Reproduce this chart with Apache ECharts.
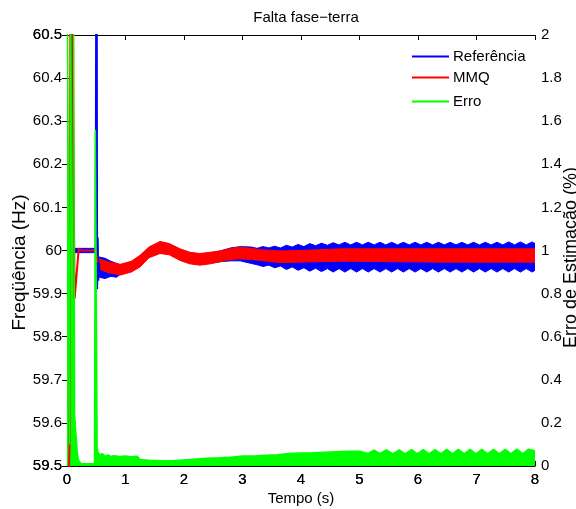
<!DOCTYPE html>
<html>
<head>
<meta charset="utf-8">
<script src="https://cdn.jsdelivr.net/npm/echarts@6/dist/echarts.min.js"></script>
<style>
  html, body { margin: 0; padding: 0; background: #fff; }
  #chart { width: 576px; height: 509px; }
</style>
</head>
<body>
<div id="chart"></div>
<script>
// Axis ranges and tick steps
const timeRange = [0, 8];
const freqRange = [59.5, 60.5];
const errRange = [0, 2];

// Referência: thin band before the fault, spike at the fault, then the oscillating band [t, low, high]
const refPreBand = [
  [0.00, 59.995, 60.005],
  [0.49, 59.995, 60.005]
];
const refSpike = [
  [0.490, 60.000], [0.505, 61.000], [0.515, 59.910], [0.525, 60.030],
  [0.535, 59.930], [0.545, 59.975], [0.555, 59.950]
];
const refBand = [
  [0.55, 59.938, 59.985], [0.65, 59.935, 59.982], [0.75, 59.940, 59.975],
  [0.85, 59.938, 59.970], [0.91, 59.945, 59.966], [1.10, 59.952, 59.973],
  [1.25, 59.964, 59.987], [1.40, 59.985, 60.006], [1.59, 59.995, 60.019],
  [1.75, 59.992, 60.014], [1.93, 59.979, 60.002], [2.10, 59.971, 59.994],
  [2.27, 59.968, 59.991], [2.45, 59.971, 59.994], [2.62, 59.974, 59.999],
  [2.80, 59.976, 60.006], [2.96, 59.976, 60.009], [3.15, 59.970, 60.008],
  [3.25, 59.967, 60.005], [3.35, 59.963, 60.009], [3.45, 59.966, 60.006],
  [3.55, 59.960, 60.010], [3.65, 59.964, 60.006], [3.75, 59.956, 60.012],
  [3.85, 59.962, 60.008], [3.95, 59.954, 60.014], [4.05, 59.960, 60.009],
  [4.15, 59.952, 60.016], [4.25, 59.959, 60.011], [4.35, 59.951, 60.017],
  [4.45, 59.958, 60.012], [4.55, 59.950, 60.018], [4.65, 59.958, 60.013],
  [4.75, 59.950, 60.019], [4.85, 59.958, 60.013], [4.95, 59.950, 60.019],
  [5.05, 59.958, 60.013], [5.15, 59.950, 60.019], [5.25, 59.958, 60.013],
  [5.35, 59.950, 60.019], [5.45, 59.958, 60.013], [5.55, 59.950, 60.019],
  [5.65, 59.958, 60.013], [5.75, 59.950, 60.019], [5.85, 59.958, 60.013],
  [5.95, 59.950, 60.019], [6.05, 59.958, 60.013], [6.15, 59.950, 60.019],
  [6.25, 59.958, 60.013], [6.35, 59.950, 60.019], [6.45, 59.958, 60.013],
  [6.55, 59.950, 60.019], [6.65, 59.958, 60.013], [6.75, 59.950, 60.019],
  [6.85, 59.958, 60.013], [6.95, 59.950, 60.019], [7.05, 59.958, 60.013],
  [7.15, 59.950, 60.019], [7.25, 59.958, 60.013], [7.35, 59.950, 60.019],
  [7.45, 59.958, 60.013], [7.55, 59.950, 60.020], [7.65, 59.958, 60.013],
  [7.75, 59.950, 60.020], [7.85, 59.958, 60.013], [7.95, 59.950, 60.020],
  [8.00, 59.954, 60.016]
];

// MMQ: start-up transient as a line, then the oscillating estimate band [t, low, high]
const mmqLine = [
  [0.000, 59.300], [0.045, 59.560], [0.060, 60.700], [0.090, 60.600],
  [0.130, 59.888], [0.200, 60.003], [0.250, 60.000], [0.490, 60.000],
  [0.520, 59.972]
];
const mmqBand = [
  [0.52, 59.964, 59.984], [0.56, 59.956, 59.980], [0.70, 59.949, 59.974],
  [0.91, 59.943, 59.968], [1.10, 59.950, 59.975], [1.25, 59.962, 59.989],
  [1.40, 59.983, 60.008], [1.59, 59.993, 60.021], [1.75, 59.990, 60.016],
  [1.93, 59.977, 60.004], [2.10, 59.969, 59.996], [2.27, 59.966, 59.993],
  [2.45, 59.969, 59.996], [2.62, 59.974, 59.999], [2.80, 59.979, 60.005],
  [2.96, 59.981, 60.008], [3.15, 59.979, 60.005], [3.30, 59.977, 60.002],
  [3.64, 59.972, 59.999], [3.98, 59.973, 60.000], [4.30, 59.974, 60.002],
  [4.70, 59.975, 60.004], [5.50, 59.974, 60.004], [6.50, 59.973, 60.004],
  [7.50, 59.973, 60.004], [8.00, 59.973, 60.004]
];

// Erro (%): upper envelope of the estimation error, filled down to zero
const errCurve = [
  [0.000, 2.500], [0.025, 2.500], [0.045, 0.100], [0.065, 2.500], [0.110, 2.500],
  [0.130, 0.230], [0.140, 0.200], [0.160, 0.120], [0.180, 0.050], [0.200, 0.025],
  [0.240, 0.012], [0.300, 0.010], [0.470, 0.010], [0.485, 1.560], [0.500, 1.560],
  [0.515, 0.080], [0.530, 0.065], [0.560, 0.050], [0.600, 0.058], [0.650, 0.045],
  [0.700, 0.052], [0.750, 0.044], [0.800, 0.048], [0.900, 0.044], [1.000, 0.047],
  [1.100, 0.043], [1.200, 0.045], [1.250, 0.030], [1.400, 0.027], [1.600, 0.024],
  [1.800, 0.024], [2.000, 0.028], [2.200, 0.032], [2.400, 0.036], [2.600, 0.038],
  [2.800, 0.041], [3.000, 0.046], [3.200, 0.046], [3.400, 0.050], [3.600, 0.052],
  [3.800, 0.058], [4.000, 0.060], [4.200, 0.061], [4.400, 0.064], [4.600, 0.066],
  [4.800, 0.068], [5.000, 0.069], [5.150, 0.058], [5.250, 0.074], [5.350, 0.057],
  [5.460, 0.075], [5.570, 0.056], [5.680, 0.075], [5.780, 0.056], [5.890, 0.076],
  [5.990, 0.056], [6.090, 0.076], [6.190, 0.056], [6.290, 0.076], [6.390, 0.056],
  [6.490, 0.077], [6.590, 0.056], [6.690, 0.077], [6.790, 0.056], [6.890, 0.077],
  [6.990, 0.056], [7.090, 0.077], [7.190, 0.056], [7.290, 0.077], [7.390, 0.056],
  [7.490, 0.077], [7.590, 0.056], [7.690, 0.078], [7.790, 0.056], [7.890, 0.078],
  [8.000, 0.070]
];

const FONT = 'Liberation Sans, Arial, Helvetica, sans-serif';
const BLUE = '#0000ff', RED = '#ff0000', GREEN = '#00ff00';

// A filled band between the low and high envelopes, drawn as one polygon
function bandSeries(name, color, rows) {
  return {
    type: 'custom', name: name, xAxisIndex: 0, yAxisIndex: 0, clip: true,
    itemStyle: { color: color },
    encode: { x: 0, y: [1, 2] },
    data: rows,
    renderItem: function (params, api) {
      if (params.dataIndex !== 0) return null;
      const upper = rows.map(r => api.coord([r[0], r[2]]));
      const lower = rows.map(r => api.coord([r[0], r[1]])).reverse();
      return {
        type: 'polygon',
        shape: { points: upper.concat(lower) },
        style: { fill: color, stroke: color, lineWidth: 1 }
      };
    }
  };
}

const tickLabel = { color: '#000', fontSize: 15, fontFamily: FONT };
const blackLine = { lineStyle: { color: '#000', width: 1 } };

const chart = echarts.init(document.getElementById('chart'), null, { renderer: 'canvas' });
chart.setOption({
  animation: false,
  backgroundColor: '#fff',
  title: {
    text: 'Falta fase\u2212terra',
    left: 301, top: 5, textAlign: 'center',
    textStyle: { color: '#000', fontSize: 15, fontWeight: 'normal', fontFamily: FONT }
  },
  legend: [
    { data: ['Referência'], left: 407, top: 44 },
    { data: ['MMQ'], left: 407, top: 65 },
    { data: ['Erro'], left: 407, top: 89 }
  ].map(l => Object.assign({
    orient: 'vertical', icon: 'rect', itemWidth: 37, itemHeight: 2, itemGap: 0,
    textStyle: { color: '#000', fontSize: 15, fontFamily: FONT, padding: [0, 0, 0, -1] },
    selectedMode: false
  }, l)),
  grid: { left: 67, right: 41, top: 35, bottom: 43, outerBoundsMode: 'none', containLabel: false },
  xAxis: [
    {
      type: 'value', position: 'bottom', min: timeRange[0], max: timeRange[1], interval: 1,
      axisLine: blackLine, axisTick: { inside: true, length: 5, lineStyle: { color: '#000' } },
      axisLabel: Object.assign({ margin: 6 }, tickLabel), splitLine: { show: false },
      name: 'Tempo (s)', nameLocation: 'middle', nameGap: 25, nameMoveOverlap: false,
      nameTextStyle: { color: '#000', fontSize: 15, fontFamily: FONT }
    },
    {
      type: 'value', position: 'top', min: timeRange[0], max: timeRange[1], interval: 1,
      axisLine: blackLine, axisTick: { inside: true, length: 5, lineStyle: { color: '#000' } },
      axisLabel: { show: false }, splitLine: { show: false }
    },
    {
      type: 'value', position: 'bottom', min: timeRange[0], max: timeRange[1], interval: 1,
      axisLine: { show: false }, axisTick: { show: false },
      axisLabel: Object.assign({ margin: 6 }, tickLabel), splitLine: { show: false }
    }
  ],
  yAxis: [
    {
      type: 'value', position: 'left', min: freqRange[0], max: freqRange[1], interval: 0.1,
      axisLine: blackLine, axisTick: { inside: true, length: 5, lineStyle: { color: '#000' } },
      axisLabel: Object.assign({ margin: 5 }, tickLabel), splitLine: { show: false },
      name: 'Freqüência (Hz)', nameLocation: 'middle', nameRotate: 90, nameGap: 38,
      nameMoveOverlap: false,
      nameTextStyle: { color: '#000', fontSize: 19, fontFamily: FONT, padding: [0, 24, 0, 0] }
    },
    {
      type: 'value', position: 'right', min: errRange[0], max: errRange[1], interval: 0.2,
      axisLine: blackLine, axisTick: { inside: true, length: 5, lineStyle: { color: '#000' } },
      axisLabel: Object.assign({ margin: 6 }, tickLabel), splitLine: { show: false },
      name: 'Erro de Estimação (%)', nameLocation: 'middle', nameRotate: 90, nameGap: 27,
      nameMoveOverlap: false,
      nameTextStyle: { color: '#000', fontSize: 18, fontFamily: FONT, padding: [0, 14, 0, 0] }
    },
    {
      type: 'value', position: 'left', min: freqRange[0], max: freqRange[1], interval: 0.1,
      axisLine: { show: false }, axisTick: { show: false }, splitLine: { show: false },
      axisLabel: Object.assign({
        margin: 5,
        formatter: v => (Math.abs(v - freqRange[0]) < 1e-6 || Math.abs(v - freqRange[1]) < 1e-6) ? String(v) : ''
      }, tickLabel)
    }
  ],
  series: [
    bandSeries('Referência', BLUE, refPreBand),
    bandSeries('Referência', BLUE, refBand),
    {
      type: 'line', name: 'Referência', xAxisIndex: 0, yAxisIndex: 0, data: refSpike,
      showSymbol: false, clip: true, color: BLUE, lineStyle: { color: BLUE, width: 2 }
    },
    {
      type: 'line', name: 'MMQ', xAxisIndex: 0, yAxisIndex: 0, data: mmqLine,
      showSymbol: false, clip: true, color: RED, lineStyle: { color: RED, width: 2 }
    },
    bandSeries('MMQ', RED, mmqBand),
    {
      type: 'line', name: 'Erro', xAxisIndex: 0, yAxisIndex: 1, data: errCurve,
      showSymbol: false, clip: true, color: GREEN, lineStyle: { color: GREEN, width: 1.5 },
      areaStyle: { color: GREEN, opacity: 1, origin: 'start' }
    }
  ]
});
</script>
</body>
</html>
